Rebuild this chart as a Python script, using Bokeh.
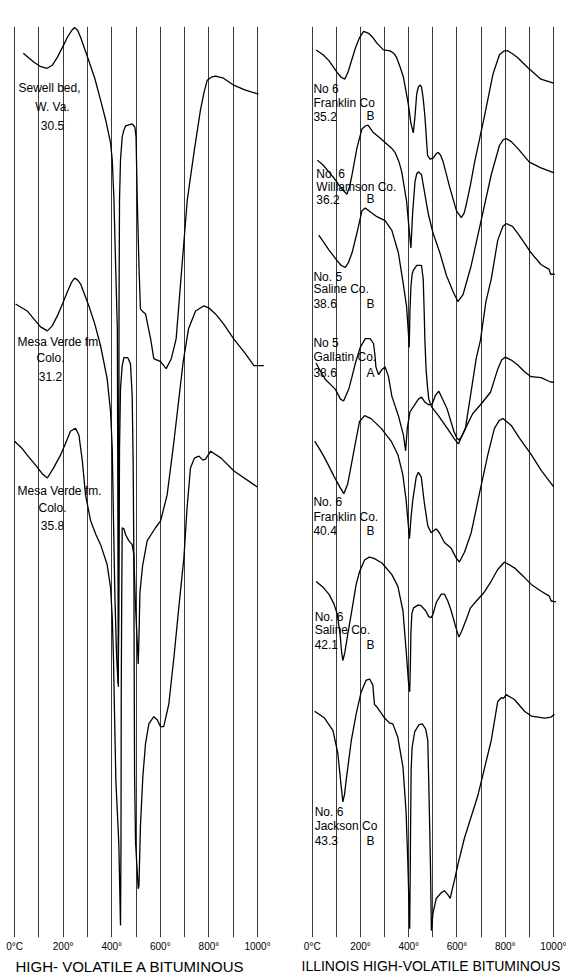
from bokeh.plotting import figure
from bokeh.layouts import row
from bokeh.models import Range1d, FixedTicker, Title, Label
from bokeh.embed import file_html
from bokeh.resources import INLINE

# ---------------- data ----------------
GRID_TEMPS = [0, 100, 200, 300, 400, 500, 600, 700, 800, 900, 1000]
TICK_TEMPS = [0, 200, 400, 600, 800, 1000]
TICK_LABELS = ["0°C", "200°", "400°", "600°", "800°", "1000°"]

LEFT_TITLE = "HIGH- VOLATILE A BITUMINOUS"
RIGHT_TITLE = "ILLINOIS HIGH-VOLATILE BITUMINOUS"

# Left panel: high-volatile A bituminous (temperature °C, trace position)
sewell_wva = [(36, 53), (60, 58), (80, 62), (105, 66), (134, 68), (155, 65), (176, 57), (197, 47), (217, 37),
              (235, 30), (247, 27), (260, 30), (272, 37), (302, 58), (330, 78), (354, 100), (375, 120), (395, 143),
              (402, 160), (409, 200), (416, 267), (423, 330), (425, 500), (427, 690), (429, 480), (430, 300),
              (432, 200), (436, 160), (443, 137), (450, 130), (457, 126), (484, 124), (495, 127), (500, 137),
              (505, 200), (512, 267), (518, 310), (525, 312), (539, 315), (560, 340), (573, 360), (601, 363),
              (624, 370), (645, 360), (665, 340), (683, 285), (711, 200), (740, 150), (765, 110), (780, 92),
              (793, 80), (810, 77), (827, 76), (860, 78), (902, 85), (950, 90), (1004, 94)]

mesa_verde_312 = [(4, 305), (52, 312), (79, 320), (107, 328), (135, 332), (155, 327), (176, 317), (197, 305),
                  (217, 293), (235, 283), (247, 279), (260, 281), (272, 285), (306, 307), (330, 325), (354, 347),
                  (381, 380), (395, 413), (402, 450), (407, 520), (413, 600), (420, 660), (426, 687), (429, 620),
                  (430, 560), (432, 450), (436, 390), (443, 367), (450, 359), (466, 359), (477, 365), (484, 397),
                  (488, 463), (491, 560), (498, 610), (505, 645), (509, 667), (512, 640), (516, 595), (527, 568),
                  (546, 543), (580, 530), (601, 523), (628, 497), (654, 447), (694, 363), (716, 330), (745, 312),
                  (778, 307), (800, 309), (827, 315), (860, 325), (902, 340), (950, 355), (985, 367), (1026, 367)]

mesa_verde_358 = [(0, 443), (30, 450), (52, 457), (90, 468), (115, 476), (135, 480), (160, 470), (189, 457),
                  (210, 445), (230, 433), (251, 430), (265, 437), (279, 463), (292, 497), (313, 523), (335, 537),
                  (354, 547), (381, 567), (395, 590), (402, 620), (407, 660), (410, 700), (417, 785), (429, 847),
                  (436, 930), (438, 850), (439, 700), (441, 600), (443, 530), (450, 531), (457, 537), (470, 543),
                  (484, 547), (491, 557), (492, 650), (494, 780), (498, 847), (509, 893), (512, 890), (518, 830),
                  (528, 780), (539, 747), (553, 727), (573, 720), (587, 723), (601, 730), (614, 730), (635, 707),
                  (656, 660), (676, 610), (697, 560), (710, 510), (724, 470), (740, 460), (759, 458), (775, 462),
                  (786, 461), (807, 453), (850, 460), (903, 473), (999, 489)]

# Right panel: Illinois high-volatile bituminous
franklin_352 = [(16, 32), (45, 37), (69, 43), (103, 55), (120, 60), (135, 62), (148, 55), (158, 47), (179, 30),
                (195, 20), (213, 13), (234, 15), (250, 19), (268, 25), (295, 32), (323, 33), (340, 36), (350, 40),
                (365, 50), (378, 60), (398, 87), (409, 107), (419, 117), (426, 100), (433, 77), (440, 70),
                (446, 68), (453, 70), (460, 82), (467, 100), (478, 140), (488, 144), (501, 143), (512, 139),
                (522, 137), (532, 140), (543, 147), (570, 173), (598, 197), (618, 204), (630, 199), (639, 190),
                (656, 170), (673, 147), (714, 100), (749, 57), (776, 37), (795, 33), (810, 33), (830, 36),
                (852, 40), (893, 50), (948, 62), (1000, 66)]

williamson_362 = [(21, 145), (45, 150), (69, 157), (95, 165), (117, 173), (144, 180), (155, 172), (165, 160),
                  (185, 133), (206, 113), (220, 110), (231, 109), (254, 117), (280, 122), (302, 127), (330, 133),
                  (343, 137), (360, 147), (371, 157), (391, 187), (402, 217), (409, 235), (416, 200), (426, 167),
                  (433, 159), (440, 157), (453, 160), (467, 180), (481, 200), (501, 220), (529, 240), (556, 263),
                  (584, 280), (604, 290), (625, 283), (659, 253), (700, 207), (742, 160), (776, 130), (792, 124),
                  (804, 123), (825, 126), (852, 133), (900, 147), (948, 153), (1003, 158)]

saline_386 = [(27, 222), (50, 230), (69, 237), (103, 248), (120, 253), (137, 255), (150, 250), (165, 240),
              (185, 220), (206, 197), (220, 194), (240, 198), (268, 203), (302, 207), (330, 217), (357, 240),
              (378, 273), (391, 295), (398, 320), (402, 337), (405, 300), (409, 275), (414, 262), (419, 258),
              (433, 253), (453, 253), (460, 267), (464, 300), (467, 330), (472, 360), (478, 378), (483, 390),
              (495, 398), (520, 406), (560, 420), (590, 431), (606, 436), (620, 428), (635, 420), (660, 380),
              (680, 348), (697, 330), (720, 290), (742, 267), (769, 227), (790, 213), (804, 210), (830, 213),
              (852, 220), (880, 230), (907, 240), (948, 252), (982, 257), (988, 262), (1005, 262)]

gallatin_386 = [(16, 353), (35, 362), (55, 370), (96, 380), (117, 390), (130, 392), (151, 380), (165, 367),
                (179, 353), (199, 337), (220, 328), (240, 328), (254, 333), (260, 345), (264, 357), (275, 365),
                (288, 360), (302, 357), (316, 367), (330, 387), (357, 407), (378, 427), (387, 443), (394, 420),
                (405, 403), (419, 398), (440, 390), (453, 388), (467, 393), (483, 396), (497, 395), (511, 386),
                (525, 382), (540, 390), (559, 400), (587, 423), (600, 430), (608, 432), (620, 428), (635, 420),
                (665, 405), (700, 395), (739, 383), (768, 360), (785, 350), (800, 347), (825, 350), (852, 355),
                (880, 362), (907, 367), (949, 368), (983, 372), (1003, 373)]

franklin_404 = [(10, 433), (30, 441), (51, 450), (92, 470), (114, 480), (131, 487), (147, 477), (160, 460),
                (175, 440), (196, 413), (217, 407), (244, 410), (286, 420), (327, 433), (355, 447), (375, 467),
                (389, 493), (396, 513), (403, 533), (410, 510), (417, 493), (431, 470), (440, 465), (452, 470),
                (465, 497), (479, 520), (493, 527), (514, 523), (527, 527), (548, 537), (576, 543), (597, 553),
                (610, 557), (631, 547), (659, 527), (693, 487), (728, 447), (755, 420), (775, 412), (790, 410),
                (825, 417), (859, 430), (908, 447), (949, 463), (1001, 480)]

saline_421 = [(16, 577), (45, 583), (69, 590), (90, 600), (103, 610), (115, 630), (122, 650), (127, 658),
              (135, 650), (148, 630), (162, 610), (182, 580), (196, 567), (217, 555), (236, 552), (254, 553),
              (289, 558), (330, 570), (355, 582), (376, 607), (389, 647), (399, 680), (404, 690), (407, 660),
              (409, 630), (413, 610), (420, 604), (440, 601), (452, 602), (470, 607), (483, 613), (493, 614),
              (500, 611), (515, 598), (535, 590), (548, 590), (562, 597), (576, 607), (594, 623), (608, 634),
              (621, 627), (640, 615), (656, 604), (684, 596), (713, 588), (739, 578), (768, 565), (797, 557),
              (838, 563), (880, 573), (908, 580), (949, 587), (983, 592), (990, 597), (1011, 598)]

jackson_433 = [(10, 710), (51, 717), (86, 730), (106, 753), (120, 787), (127, 803), (134, 795), (141, 780),
               (162, 740), (182, 713), (203, 690), (224, 678), (238, 677), (251, 683), (258, 703), (269, 706),
               (286, 712), (300, 717), (320, 722), (334, 723), (355, 737), (376, 767), (389, 813), (396, 863),
               (404, 933), (406, 880), (408, 820), (410, 770), (414, 747), (425, 731), (442, 724), (456, 723),
               (470, 728), (479, 740), (483, 783), (487, 830), (490, 867), (494, 935), (500, 918), (514, 902),
               (535, 896), (548, 894), (562, 898), (572, 902), (580, 893), (590, 883), (603, 868), (631, 840),
               (686, 797), (742, 740), (769, 700), (785, 696), (792, 697), (804, 693), (838, 698), (880, 710),
               (908, 715), (963, 717), (990, 716), (1004, 713)]

LEFT_CURVES = [sewell_wva, mesa_verde_312, mesa_verde_358]
RIGHT_CURVES = [franklin_352, williamson_362, saline_386, gallatin_386, franklin_404, saline_421, jackson_433]

# sample annotations (lines of text)
LEFT_NOTES = [["Sewell bed,", "W. Va.", "30.5"],
              ["Mesa Verde fm.", "Colo.", "31.2"],
              ["Mesa Verde  fm.", "Colo.", "35.8"]]
RIGHT_NOTES = [["No 6", "Franklin Co", "35.2", "B"],
               ["No. 6", "Williamson Co.", "36.2", "B"],
               ["No. 5", "Saline Co.", "38.6", "B"],
               ["No 5", "Gallatin Co.", "38.6", "A"],
               ["No. 6", "Franklin Co.", "40.4", "B"],
               ["No. 6", "Saline Co.", "42.1", "B"],
               ["No. 6", "Jackson  Co", "43.3", "B"]]

# ---------------- layout / style ----------------
FONT = "Liberation Sans"
FIG_H = 975
BOTTOM_BORDER = 33
FRAME_BOTTOM = FIG_H - BOTTOM_BORDER


def make_fig(width, left_border, xr, top, title, title_offset, title_size):
    p = figure(width=width, height=FIG_H, x_range=Range1d(*xr), y_range=Range1d(FRAME_BOTTOM, top),
               output_backend="svg", toolbar_location=None, y_axis_location=None,
               min_border_left=left_border, min_border_right=0, min_border_top=top,
               min_border_bottom=BOTTOM_BORDER)
    p.outline_line_color = None
    p.background_fill_color = "white"
    p.border_fill_color = "white"
    p.ygrid.grid_line_color = None
    p.xgrid.ticker = FixedTicker(ticks=GRID_TEMPS)
    p.xgrid.grid_line_color = "#3a3a3a"
    p.xgrid.grid_line_width = 1
    ax = p.xaxis[0]
    ax.ticker = FixedTicker(ticks=TICK_TEMPS)
    ax.major_label_overrides = {t: s for t, s in zip(TICK_TEMPS, TICK_LABELS)}
    ax.axis_line_color = None
    ax.major_tick_line_color = None
    ax.minor_tick_line_color = None
    ax.major_tick_out = 0
    ax.major_tick_in = 0
    ax.major_label_standoff = 3
    ax.major_label_text_font = FONT
    ax.major_label_text_font_size = "10px"
    ax.major_label_text_color = "black"
    t = Title(text=title, align="left", offset=title_offset, text_font=FONT, text_font_size=title_size,
              text_font_style="normal", text_color="black", standoff=2)
    p.add_layout(t, "below")
    return p


def draw(p, curves):
    for c in curves:
        xs = [a for a, b in c]
        ys = [b for a, b in c]
        p.line(xs, ys, line_color="black", line_width=1.3)


def note(p, x, y, text, align="left", size="12px"):
    p.add_layout(Label(x=x, y=y, text=text, text_align=align, text_baseline="middle",
                       text_font=FONT, text_font_size=size, text_color="black"))


left = make_fig(284, 8, (-25, 1111), 26, LEFT_TITLE, 7, "15px")
draw(left, LEFT_CURVES)
# left annotations: first line left-aligned, others centred
left_pos = [(16, 156, [88, 107, 126]), (12, 148, [343, 359, 378]), (12, 156, [493, 510, 528])]
for lines, (x0, xc, ys) in zip(LEFT_NOTES, left_pos):
    note(left, x0, ys[0], lines[0])
    note(left, xc, ys[1], lines[1], align="center")
    note(left, xc, ys[2], lines[2], align="center")

right = make_fig(282, 0, (-115, 1054), 8, RIGHT_TITLE, 17, "14px")
draw(right, RIGHT_CURVES)
right_pos = [(5, [72, 86, 100]), (17, [159, 173, 185]), (5, [265, 277, 292]), (5, [333, 347, 363]),
             (5, [496, 511, 525]), (10, [613, 627, 642]), (10, [813, 828, 843])]
for lines, (x0, ys) in zip(RIGHT_NOTES, right_pos):
    note(right, x0, ys[0], lines[0])
    note(right, x0, ys[1], lines[1])
    note(right, x0, ys[2], lines[2])
    note(right, 242, ys[2], lines[3], align="center")

layout = row(left, right, spacing=0)
open("out.html", "w").write(file_html(layout, INLINE))
